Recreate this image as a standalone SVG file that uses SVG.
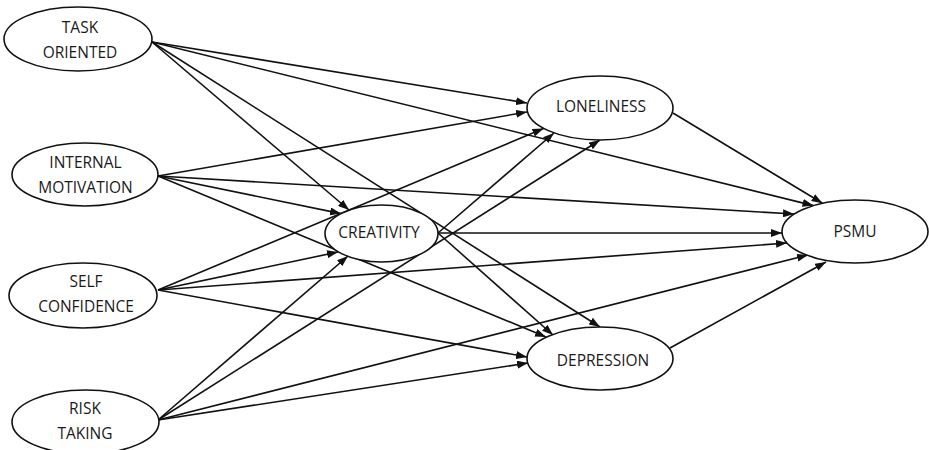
<svg xmlns="http://www.w3.org/2000/svg" width="929" height="450" viewBox="0 0 929 450">
<style>
.n ellipse{fill:#fff;stroke:#111;stroke-width:1.6}
.n text{font-family:"Open Sans","Liberation Sans",sans-serif;font-size:15.5px;fill:#1a1a1a;text-anchor:middle}
#edges line{stroke:#111;stroke-width:1.6;marker-end:url(#ah)}
</style>
<defs>
<marker id="ah" markerUnits="userSpaceOnUse" markerWidth="11" markerHeight="8" refX="11" refY="4" orient="auto">
<path d="M0,0 L11,4 L0,8 Z" fill="#111"/>
</marker>
</defs>
<rect width="929" height="450" fill="#fff"/>
<g id="edges">
<line x1="152" y1="42" x2="527" y2="103"/>
<line x1="152" y1="42" x2="813.5" y2="205.6"/>
<line x1="152" y1="42" x2="349" y2="210"/>
<line x1="152" y1="42" x2="600" y2="327"/>
<line x1="158" y1="176" x2="527" y2="112"/>
<line x1="158" y1="176" x2="341" y2="213.6"/>
<line x1="158" y1="176" x2="794" y2="214"/>
<line x1="158" y1="176" x2="546" y2="337"/>
<line x1="158" y1="290" x2="543.5" y2="128.5"/>
<line x1="158" y1="290" x2="338" y2="252"/>
<line x1="158" y1="290" x2="787" y2="243"/>
<line x1="158" y1="290" x2="527" y2="357"/>
<line x1="158" y1="420" x2="348" y2="256"/>
<line x1="158" y1="420" x2="600" y2="140"/>
<line x1="158" y1="420" x2="808" y2="255"/>
<line x1="158" y1="420" x2="528" y2="363"/>
<line x1="438" y1="233" x2="554" y2="133"/>
<line x1="438" y1="233" x2="782" y2="233"/>
<line x1="438" y1="233" x2="553" y2="335"/>
<line x1="673" y1="113" x2="822.5" y2="203.3"/>
<line x1="670" y1="348" x2="826" y2="262"/>
</g>
<g id="task" class="n"><ellipse cx="78" cy="39" rx="74" ry="32"/><text x="80" y="33">TASK</text><text x="80" y="58">ORIENTED</text></g>
<g id="internal" class="n"><ellipse cx="85" cy="174.5" rx="73" ry="31.5"/><text x="85.5" y="168">INTERNAL</text><text x="85.5" y="193">MOTIVATION</text></g>
<g id="self" class="n"><ellipse cx="83" cy="295.5" rx="74" ry="32.5"/><text x="86" y="287">SELF</text><text x="86" y="312">CONFIDENCE</text></g>
<g id="risk" class="n"><ellipse cx="85.5" cy="422" rx="73.5" ry="32"/><text x="85" y="414">RISK</text><text x="85" y="439">TAKING</text></g>
<g id="creativity" class="n"><ellipse cx="381.5" cy="233.5" rx="56.5" ry="28.5"/><text x="379" y="238">CREATIVITY</text></g>
<g id="loneliness" class="n"><ellipse cx="600" cy="108" rx="73" ry="32"/><text x="601" y="112">LONELINESS</text></g>
<g id="depression" class="n"><ellipse cx="600" cy="358.5" rx="73" ry="31.5"/><text x="603" y="366">DEPRESSION</text></g>
<g id="psmu" class="n"><ellipse cx="855" cy="231.5" rx="73" ry="31.5"/><text x="855" y="237">PSMU</text></g>
</svg>
